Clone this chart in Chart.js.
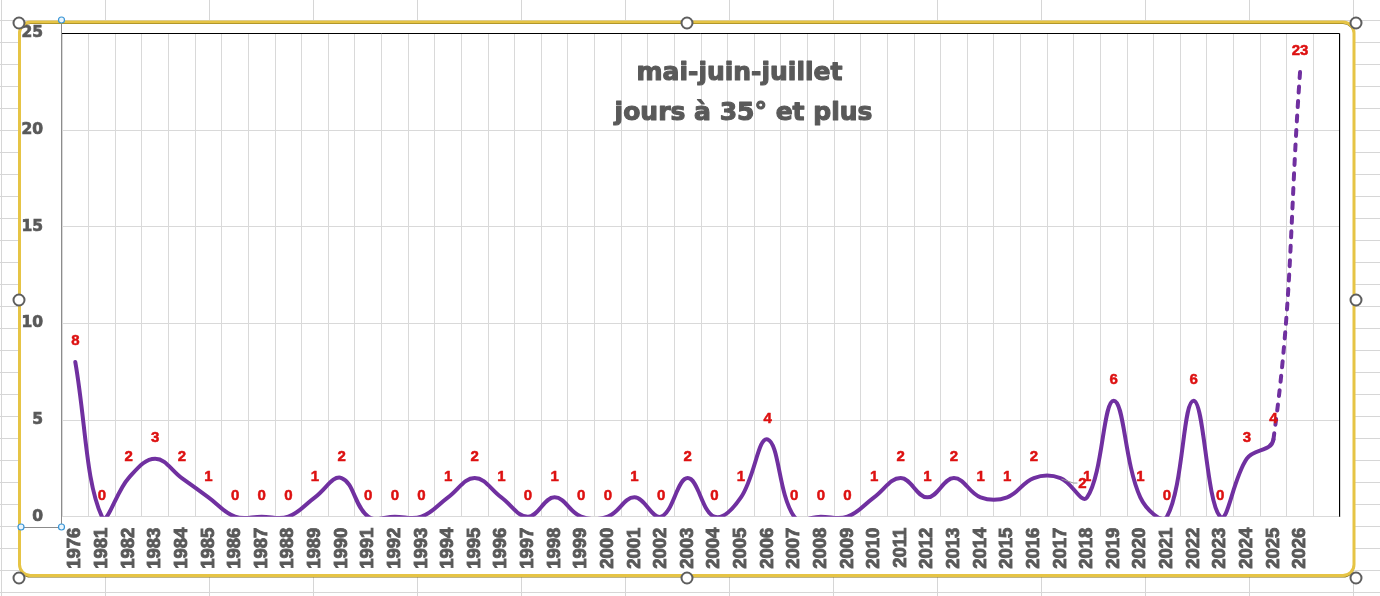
<!DOCTYPE html>
<html><head><meta charset="utf-8">
<script src="https://cdn.jsdelivr.net/npm/chart.js@4.4.1/dist/chart.umd.min.js"></script>
<style>
html,body{margin:0;padding:0}
body{width:1380px;height:596px;overflow:hidden;position:relative;background-color:#fff;
background-image:linear-gradient(to right,#d6d6d6 1px,transparent 1px),linear-gradient(to bottom,#d6d6d6 1px,transparent 1px);
background-size:104px 22px;background-position:1px 20px;}
#frame{position:absolute;left:19px;top:22px;width:1336px;height:555px;background:#fff;border-radius:11px}
#wrap{position:absolute;left:0;top:0;width:1380px;height:596px}
svg{position:absolute;left:0;top:0;pointer-events:none}
</style></head>
<body>
<div id="frame"></div>
<div id="wrap"><canvas id="c"></canvas></div>
<svg width="1380" height="596">
  <path d="M61.5 20 V527.5 M21 527.5 H61.5" stroke="#8c8c8c" stroke-width="1" fill="none"/>
  <rect x="19.5" y="23.5" width="1334.5" height="553.5" rx="11" fill="none" stroke="#7d6a12" stroke-width="1.2"/>
  <rect x="19.5" y="22" width="1334.5" height="553.5" rx="11" fill="none" stroke="#E6C445" stroke-width="3"/>
  <g fill="#fff" stroke="#5e5e5e" stroke-width="2">
    <circle cx="19" cy="23" r="5.5"/><circle cx="687" cy="23" r="5.5"/><circle cx="1356" cy="23" r="5.5"/>
    <circle cx="19" cy="300" r="5.5"/><circle cx="1356" cy="300" r="5.5"/>
    <circle cx="19" cy="578" r="5.5"/><circle cx="687" cy="578" r="5.5"/><circle cx="1356" cy="578" r="5.5"/>
  </g>
  <g fill="#eaf5fd" stroke="#3b96d6" stroke-width="1.2">
    <circle cx="61.5" cy="20" r="3"/><circle cx="21" cy="527" r="3"/><circle cx="61.5" cy="527" r="3"/>
  </g>
</svg>
<script>
const categories = ['1976','1981','1982','1983','1984','1985','1986','1987','1988','1989','1990',
  '1991','1992','1993','1994','1995','1996','1997','1998','1999','2000',
  '2001','2002','2003','2004','2005','2006','2007','2008','2009','2010',
  '2011','2012','2013','2014','2015','2016','2017','2018','2019','2020',
  '2021','2022','2023','2024','2025','2026'];
const values = [8,0,2,3,2,1,0,0,0,1,2,
  0,0,0,1,2,1,0,1,0,0,
  1,0,2,0,1,4,0,0,0,1,
  2,1,2,1,1,2,2,1,6,1,
  0,6,0,3,4,23];
const yTicks = [0,5,10,15,20,25];
const titleLines = ['mai-juin-juillet', 'jours à 35° et plus'];
const labelNudge = { '2017': { dx: 22, dy: 6, leader: true } };

const GRAY = '#595959';
const GRID = '#D9D9D9';
const LAST = values.length - 1;

const pointLabels = {
  id: 'pointLabels',
  afterDatasetsDraw(chart) {
    const ctx = chart.ctx;
    const meta = chart.getDatasetMeta(0);
    ctx.save();
    ctx.font = 'bold 15px "Liberation Sans", Arial, sans-serif';
    ctx.textAlign = 'center';
    ctx.textBaseline = 'middle';
    ctx.lineJoin = 'round';
    meta.data.forEach((pt, i) => {
      const v = values[i];
      if (v === null || v === undefined) return;
      let x = pt.x, y = pt.y - 21;
      const n = labelNudge[categories[i]];
      if (n) {
        x = pt.x + n.dx; y = pt.y + n.dy;
        if (n.leader) {
          ctx.strokeStyle = '#9a9a9a'; ctx.lineWidth = 1;
          ctx.beginPath(); ctx.moveTo(pt.x + 1, pt.y + 1); ctx.lineTo(pt.x + 13, pt.y + 5); ctx.lineTo(x - 5, pt.y + 5); ctx.stroke();
        }
      }
      ctx.fillStyle = '#DD1111';
      ctx.strokeStyle = '#DD1111';
      ctx.lineWidth = 0.5;
      ctx.fillText(String(v), x, y);
      ctx.strokeText(String(v), x, y);
    });
    ctx.restore();
  }
};

const frameAndTitle = {
  id: 'frameAndTitle',
  afterDraw(chart) {
    const ctx = chart.ctx, a = chart.chartArea;
    ctx.save();
    ctx.strokeStyle = '#000'; ctx.lineWidth = 1;
    const t = Math.floor(a.top) + 0.5, r = Math.floor(a.right) - 0.5;
    ctx.beginPath();
    ctx.moveTo(a.left, t); ctx.lineTo(r, t); ctx.lineTo(r, a.bottom);
    ctx.stroke();
    ctx.fillStyle = GRAY;
    ctx.strokeStyle = GRAY;
    ctx.lineWidth = 1.1;
    ctx.lineJoin = 'round';
    ctx.font = 'bold 25px "DejaVu Sans", sans-serif';
    ctx.textAlign = 'center';
    ctx.textBaseline = 'alphabetic';
    ctx.fillText(titleLines[0], 739.5, 80);
    ctx.strokeText(titleLines[0], 739.5, 80);
    ctx.fillText(titleLines[1], 743.5, 120);
    ctx.strokeText(titleLines[1], 743.5, 120);
    ctx.restore();
  }
};

new Chart(document.getElementById('c'), {
  type: 'line',
  data: {
    labels: [...categories, ''],
    datasets: [{
      data: values,
      borderColor: '#7030A0',
      borderWidth: 4,
      tension: 0.4,
      capBezierPoints: false,
      clip: 0,
      pointRadius: 0,
      pointHoverRadius: 0,
      fill: false,
      borderCapStyle: 'round',
      borderJoinStyle: 'round',
      segment: {
        borderDash: c => c.p1DataIndex === LAST ? [6, 8.5] : undefined
      }
    }]
  },
  options: {
    responsive: true,
    maintainAspectRatio: false,
    animation: false,
    events: [],
    layout: { padding: { left: 0, top: 33.4, right: 40, bottom: 0 } },
    plugins: { legend: { display: false }, tooltip: { enabled: false }, title: { display: false } },
    scales: {
      x: {
        type: 'category',
        offset: true,
        grid: { offset: true, color: GRID, lineWidth: 1, drawTicks: false },
        border: { display: false },
        ticks: {
          autoSkip: false, maxRotation: 90, minRotation: 90, padding: 11,
          color: GRAY, textStrokeColor: GRAY, textStrokeWidth: 0.9,
          font: { family: '"Liberation Sans", Arial, sans-serif', size: 18.5, weight: 'bold' }
        },
        afterFit: s => { s.height = 596 - 516.7; }
      },
      y: {
        min: 0, max: 25,
        afterBuildTicks: s => { s.ticks = yTicks.map(v => ({ value: v })); },
        grid: { color: GRID, lineWidth: 1, drawTicks: false },
        border: { display: false },
        ticks: {
          padding: 19, color: GRAY, textStrokeColor: GRAY, textStrokeWidth: 0.7,
          font: { family: '"DejaVu Sans", sans-serif', size: 15.5, weight: 'bold' }
        },
        afterFit: s => { s.width = 62; }
      }
    }
  },
  plugins: [pointLabels, frameAndTitle]
});
</script>
</body></html>
